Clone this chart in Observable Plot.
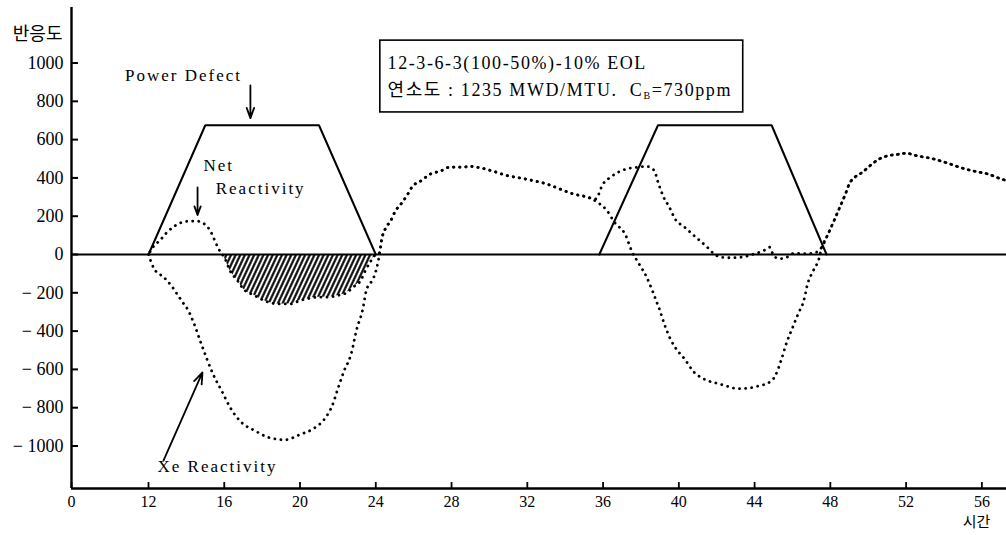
<!DOCTYPE html>
<html><head><meta charset="utf-8">
<script src="https://cdn.jsdelivr.net/npm/d3@7"></script>
<script src="https://cdn.jsdelivr.net/npm/@observablehq/plot@0.6"></script>
<style>
body{margin:0;background:#fff}
svg text{font-family:"Liberation Serif","DejaVu Serif","Noto Sans CJK KR",serif}
.spaced text{letter-spacing:2px}
.info text{letter-spacing:1.6px}
.kr text{font-family:"Noto Sans CJK KR",sans-serif}
</style>
</head><body><div id="chart"></div>
<script>
// ---- data (hours, reactivity) ----
const xeHours = [12,12.3,12.8,13.2,13.5,13.8,14.1,14.4,14.8,15.4,15.9,16.3,16.9,17.6,18.3,19.2,20.0,20.7,21.3,21.7,22.0,22.3,22.7,23.0,23.3,23.5,23.9,24.1,24.2,24.3,24.5,24.8,25.0,25.4,25.7,25.9,26.4,26.9,27.4,27.9,28.5,29.0,29.5,30.2,30.9,31.6,32.3,33.0,33.7,34.4,35.2,35.7,36.2,36.6,37.2,37.5,37.9,38.3,38.6,38.8,39.0,39.2,39.55,39.8,40.3,40.8,41.3,42.1,42.6,43.1,43.8,44.3,44.7,45.1,45.4,45.7,46.05,46.3,46.6,46.8,47.1,47.4,47.55,47.8,48.2,48.5,48.8,49.0,49.3,49.7,50.0,50.6,51.1,51.5,52.0,52.5,53.4,54.2,54.9,55.6,56.3,57.0,57.3];
const xeValues = [0,-75,-118,-162,-205,-249,-292,-360,-470,-623,-719,-797,-876,-919,-954,-968,-940,-910,-858,-789,-701,-614,-519,-388,-292,-188,-118,-49,4,73,134,178,221,273,317,351,386,421,435,456,456,460,453,435,413,400,386,369,343,317,299,273,230,169,99,21,-49,-118,-188,-240,-292,-353,-440,-484,-545,-614,-649,-675,-689,-701,-696,-684,-672,-632,-553,-458,-371,-310,-240,-153,-84,-22,38,90,178,247,317,369,404,430,456,500,517,522,529,517,500,477,453,435,421,395,386];

const netHours = [12,12.3,12.6,12.9,13.3,13.8,14.1,14.6,14.9,15.3,15.5,15.7,15.9,16.0,16.3,16.7,17.0,17.6,18.1,18.8,19.5,20.0,20.4,20.9,21.4,22.0,22.5,22.8,23.2,23.45,23.7,24.0,24.2,24.3,24.5,24.8,25.0,25.4,25.7,25.9,26.4,26.9,27.4,27.9,28.5,29.0,29.5,30.2,30.9,31.6,32.3,33.0,33.7,34.4,35.2,35.6,36.0,36.4,36.8,37.25,37.8,38.3,38.7,38.9,39.2,39.5,39.8,40.3,40.8,41.5,41.85,42.2,42.7,43.3,44.0,44.5,44.8,45.0,45.3,45.7,46.1,46.6,47.1,47.55,47.8,48.2,48.5,48.8,49.0,49.3,49.7,50.0,50.6,51.1,51.5,52.0,52.5,53.4,54.2,54.9,55.6,56.3,57.0,57.3];
const netValues = [0,47,73,108,143,169,174,174,163,117,73,30,0,-14,-84,-136,-179,-214,-240,-258,-258,-240,-231,-223,-223,-214,-197,-171,-136,-84,-40,0,10,73,134,178,221,273,317,351,386,421,435,456,456,460,453,435,413,400,386,369,343,317,299,290,369,404,430,447,456,460,439,378,299,247,186,143,99,38,4,-14,-17,-14,4,21,38,-5,-22,-14,7,4,7,38,90,178,247,317,369,404,430,456,500,517,522,529,517,500,477,453,435,421,395,386];

const powerHours = [12,15,21,24,35.8,38.9,44.9,47.8];
const powerValues = [0,675,675,0,0,675,675,0];
const powerPulse = [1,1,1,1,2,2,2,2];

const xTicks = [0,12,16,20,24,28,32,36,40,44,48,52,56];
const yTicks = [-1000,-800,-600,-400,-200,0,200,400,600,800,1000];
const xDomain = [0,12,57.3];
const xRange = [71,148,1006];
const yDomain = [-1222,1290];

const labelTexts = ["Power Defect","Net","Reactivity","Xe Reactivity"];
const labelHours = [13.85,14.9,15.55,15.64];
const labelValues = [935,465,345,-1107];
const labelAnchors = ["middle","start","start","middle"];

const arrowFromH = [17.38,14.59,12.79];
const arrowFromV = [883,350,-1076];
const arrowToH = [17.38,14.59,14.85];
const arrowToV = [712,206,-616];

const infoLines = ["12-3-6-3(100-50%)-10% EOL","연소도 : 1235 MWD/MTU.  C_B=730ppm"];
const infoHours = [24.62,24.62];
const infoValues = [997,858];
const boxH = [24.24,43.4];
const boxV = [742,1117];

const yTitle = "반응도";
const xTitle = "시간";

// ---- tables ----
const table = (hs, vs) => hs.map((h, i) => ({h, v: vs[i]}));
const xe = table(xeHours, xeValues);
const net = table(netHours, netValues);
const power = powerHours.map((h, i) => ({h, v: powerValues[i], pulse: powerPulse[i]}));
const hatch = net.filter(d => d.h >= 15.9 && d.h <= 24.0);
const labels = labelTexts.map((t, i) => ({t, h: labelHours[i], v: labelValues[i], a: labelAnchors[i]}));
const arrows = arrowFromH.map((h, i) => ({h1: h, v1: arrowFromV[i], h2: arrowToH[i], v2: arrowToV[i]}));
const info = infoLines.map((t, i) => ({t, h: infoHours[i], v: infoValues[i]}));

const serif = "'Liberation Serif','DejaVu Serif','Noto Sans CJK KR',serif";
const dotted = {x: "h", y: "v", stroke: "black", strokeWidth: 2.8, strokeDasharray: "0.1 6", strokeLinecap: "round", curve: "monotone-x"};

const svg = Plot.plot({
  width: 1006, height: 535,
  marginLeft: 71, marginRight: 0, marginTop: 7, marginBottom: 47,
  style: {fontFamily: serif, fontSize: "17px", color: "black", background: "white", overflow: "visible"},
  x: {type: "linear", domain: xDomain, range: xRange},
  y: {domain: yDomain},
  marks: [
    Plot.areaY(hatch, {x: "h", y: "v", fill: "url(#hatch)", curve: "monotone-x"}),
    Plot.ruleY([0], {strokeWidth: 2}),
    Plot.ruleX([0], {strokeWidth: 2.4}),
    Plot.ruleY([yDomain[0]], {strokeWidth: 2.4}),
    Plot.line(power, {x: "h", y: "v", z: "pulse", stroke: "black", strokeWidth: 2}),
    Plot.line(xe, dotted),
    Plot.line(net, {...dotted, strokeDashoffset: 3}),
    Plot.axisY({ticks: yTicks, tickSize: -7, tickPadding: 15, strokeWidth: 2,
      tickFormat: d => d < 0 ? "\u2212 " + Math.abs(d) : String(d), fontSize: 18, label: null}),
    Plot.axisX({ticks: xTicks, tickSize: -6, tickPadding: 13, strokeWidth: 1.8,
      tickFormat: d => String(d), fontSize: 16, label: null}),
    Plot.arrow(arrows, {x1: "h1", y1: "v1", x2: "h2", y2: "v2", bend: 0, strokeWidth: 1.8, headLength: 10, headAngle: 40}),
    Plot.text(labels.filter(d => d.a === "middle"), {x: "h", y: "v", text: "t", textAnchor: "middle", fontSize: 17, className: "spaced"}),
    Plot.text(labels.filter(d => d.a === "start"), {x: "h", y: "v", text: "t", textAnchor: "start", fontSize: 17, className: "spaced"}),
    Plot.rect([0], {x1: boxH[0], x2: boxH[1], y1: boxV[0], y2: boxV[1], fill: "white", stroke: "black", strokeWidth: 1.6}),
    Plot.text(info, {x: "h", y: "v", text: "t", textAnchor: "start", fontSize: 18, className: "info"}),
    Plot.text([yTitle], {frameAnchor: "top-left", textAnchor: "end", dx: -9, dy: 20, fontSize: 18, className: "kr"}),
    Plot.text([xTitle], {frameAnchor: "bottom-right", textAnchor: "middle", dx: -30, dy: 38, fontSize: 15, className: "kr"})
  ]
});

// hatch pattern
const ns = "http://www.w3.org/2000/svg";
const defs = document.createElementNS(ns, "defs");
const pat = document.createElementNS(ns, "pattern");
pat.setAttribute("id", "hatch");
pat.setAttribute("patternUnits", "userSpaceOnUse");
pat.setAttribute("width", "4.2");
pat.setAttribute("height", "4.2");
pat.setAttribute("patternTransform", "rotate(25)");
const ln = document.createElementNS(ns, "line");
ln.setAttribute("x1", "2.1"); ln.setAttribute("y1", "-1");
ln.setAttribute("x2", "2.1"); ln.setAttribute("y2", "5.2");
ln.setAttribute("stroke", "black"); ln.setAttribute("stroke-width", "2.1");
pat.appendChild(ln); defs.appendChild(pat);
svg.insertBefore(defs, svg.firstChild);

// subscript B
svg.querySelectorAll("text").forEach(t => {
  if (t.textContent.includes("C_B")) {
    const [a, b] = t.textContent.split("C_B");
    t.textContent = "";
    const t1 = document.createElementNS(ns, "tspan"); t1.textContent = a + "C";
    const t2 = document.createElementNS(ns, "tspan"); t2.textContent = "B";
    t2.setAttribute("font-size", "10"); t2.setAttribute("dy", "3");
    const t3 = document.createElementNS(ns, "tspan"); t3.textContent = b; t3.setAttribute("dy", "-3");
    t.append(t1, t2, t3);
  }
});

document.getElementById("chart").appendChild(svg);
</script>
</body></html>
